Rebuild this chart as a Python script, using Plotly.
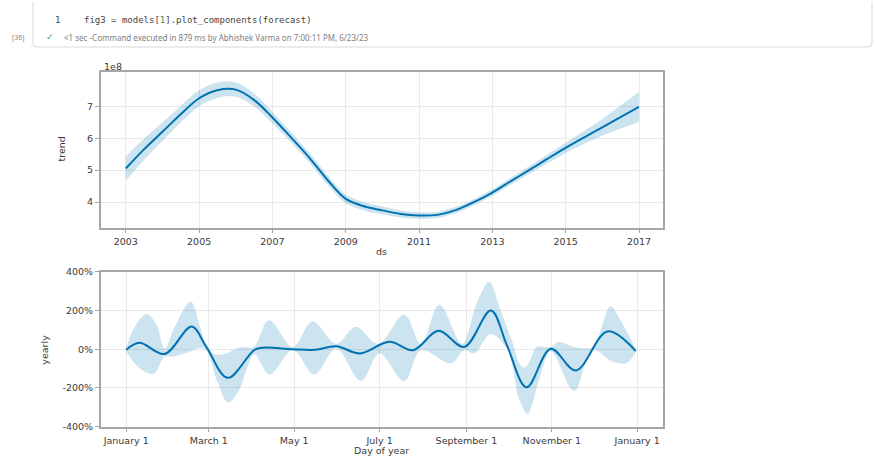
import plotly.graph_objects as go

W, H = 875, 466

# ---- trend component (units of 1e8), half-year samples ----
trend_dates = ["2003-01-01", "2003-07-01", "2004-01-01", "2004-07-01", "2005-01-01",
               "2005-07-01", "2006-01-01", "2006-07-01", "2007-01-01", "2007-07-01",
               "2008-01-01", "2008-07-01", "2009-01-01", "2009-07-01", "2010-01-01",
               "2010-07-01", "2011-01-01", "2011-07-01", "2012-01-01", "2012-07-01",
               "2013-01-01", "2013-07-01", "2014-01-01", "2014-07-01", "2015-01-01",
               "2015-07-01", "2016-01-01", "2016-07-01", "2016-12-31"]
trend = [5.05, 5.65, 6.2, 6.75, 7.25, 7.5, 7.52, 7.2, 6.65, 6.04,
         5.4, 4.7, 4.1, 3.87, 3.74, 3.63, 3.58, 3.6, 3.75, 4.0,
         4.3, 4.65, 5.0, 5.35, 5.7, 6.02, 6.34, 6.66, 6.98]
trend_upper = [5.43, 5.98, 6.49, 7.01, 7.5, 7.74, 7.74, 7.4, 6.83, 6.2,
               5.55, 4.85, 4.24, 4.0, 3.86, 3.74, 3.68, 3.7, 3.85, 4.1,
               4.4, 4.76, 5.12, 5.49, 5.86, 6.22, 6.6, 7.02, 7.45]
trend_lower = [4.67, 5.32, 5.91, 6.49, 7.0, 7.26, 7.3, 7.0, 6.47, 5.88,
               5.25, 4.55, 3.96, 3.74, 3.62, 3.52, 3.48, 3.5, 3.65, 3.9,
               4.2, 4.54, 4.88, 5.21, 5.54, 5.82, 6.08, 6.3, 6.51]
trend_ticks = [4, 5, 6, 7]
year_ticks = ["2003", "2005", "2007", "2009", "2011", "2013", "2015", "2017"]

# ---- yearly component (percent), x = day of year ----
yearly_days = [0, 9.5, 27.3, 46.8, 57, 72.5, 91.6, 98, 119, 135, 150, 167, 188,
               205, 223, 241.5, 260.5, 272, 286, 303.3, 321.2, 343.8, 364]
yearly = [-3, 33, -25, 117, 15, -148, -3, 8, 0, -3, 15, -22, 38,
          -5, 95, 12, 200, 20, -197, 2, -110, 92, -10]

upper_days = [0, 6, 14.3, 21.4, 27.5, 34.5, 46, 52.3, 57, 63, 70, 82, 91, 102,
              119, 133, 150, 164, 180, 198.6, 210.6, 223.6, 240, 250, 259.3,
              267.6, 277, 281, 285, 290, 293, 303, 309, 320, 333, 346, 352, 364]
yearly_upper = [8, 113, 182, 129, 3, 113, 247, 129, 22, -25, -25, 12, 12, 150,
                12, 143, 28, 116, 28, 180, 28, 230, 28, 230, 348,
                197, 12, -75, -95, -30, 12, 12, 37, 12, 12, 222, 163, 3]

lower_days = [0, 6, 13, 20, 27.3, 33.3, 38, 46.4, 52, 57, 65.4, 72.5, 79.7, 86.8,
              91.6, 102.3, 119, 134.4, 150, 167.7, 180.8, 198.6, 210.6, 232,
              241.5, 248.6, 260.5, 272.4, 280.7, 286.7, 295, 303.3, 320, 333,
              347.3, 357, 364]
yearly_lower = [-10, -73, -115, -126, -39, -39, -30, -10, 5, -5, -174, -275, -224, -89,
                -25, -131, -5, -131, 3, -165, -22, -165, -5, -73,
                -5, -22, 79, -5, -258, -333, -157, -9, -216, -3,
                -64, -73, -19]

month_days = [0, 59, 120, 181, 243, 304, 365]
month_labels = ["January 1", "March 1", "May 1", "July 1", "September 1",
                "November 1", "January 1"]
pct_ticks = [-400, -200, 0, 200, 400]

LINE = "#0072B2"
BAND = "rgba(0,114,178,0.2)"
FRAME = "#a6a6a6"
GRID = "#e9e9e9"
TXT = "#3a3a3a"
FONT = "DejaVu Sans"


def px_x(x):
    return x / W


def px_y(y):
    return 1 - y / H


fig = go.Figure()

# trend band + line
fig.add_trace(go.Scatter(x=trend_dates, y=[v * 1e8 for v in trend_lower],
                         mode="lines", line=dict(width=0, shape="spline"),
                         showlegend=False, hoverinfo="skip", xaxis="x", yaxis="y"))
fig.add_trace(go.Scatter(x=trend_dates, y=[v * 1e8 for v in trend_upper],
                         mode="lines", line=dict(width=0, shape="spline"),
                         fill="tonexty", fillcolor=BAND,
                         showlegend=False, hoverinfo="skip", xaxis="x", yaxis="y"))
fig.add_trace(go.Scatter(x=trend_dates, y=[v * 1e8 for v in trend],
                         mode="lines", line=dict(color=LINE, width=2, shape="spline"),
                         showlegend=False, xaxis="x", yaxis="y"))

# yearly band + line
fig.add_trace(go.Scatter(x=lower_days, y=yearly_lower,
                         mode="lines", line=dict(width=0, shape="spline"),
                         showlegend=False, hoverinfo="skip", xaxis="x2", yaxis="y2"))
fig.add_trace(go.Scatter(x=upper_days, y=yearly_upper,
                         mode="lines", line=dict(width=0, shape="spline"),
                         fill="tonexty", fillcolor=BAND,
                         showlegend=False, hoverinfo="skip", xaxis="x2", yaxis="y2"))
fig.add_trace(go.Scatter(x=yearly_days, y=yearly,
                         mode="lines", line=dict(color=LINE, width=2, shape="spline"),
                         showlegend=False, xaxis="x2", yaxis="y2"))

axis_common = dict(showline=True, mirror=True, linecolor=FRAME, linewidth=1.5,
                   showgrid=True, gridcolor=GRID, gridwidth=1, zeroline=False,
                   ticks="outside", ticklen=4, tickcolor=FRAME,
                   tickfont=dict(family=FONT, size=9.5, color=TXT))

x_dom = [px_x(100.7), px_x(662.7)]

fig.update_layout(
    width=W, height=H, margin=dict(l=0, r=0, t=0, b=0),
    paper_bgcolor="white", plot_bgcolor="white", showlegend=False,
    xaxis=dict(domain=x_dom, anchor="y", type="date",
               range=["2002-04-26", "2017-08-25"],
               tickvals=[y + "-01-01" for y in year_ticks], ticktext=year_ticks,
               **axis_common),
    yaxis=dict(domain=[px_y(227), px_y(68)], anchor="x",
               range=[3.2e8, 8.06e8],
               tickvals=[t * 1e8 for t in trend_ticks],
               ticktext=[str(t) for t in trend_ticks], **axis_common),
    xaxis2=dict(domain=x_dom, anchor="y2", range=[-18.25, 383.25],
                tickvals=month_days, ticktext=month_labels, **axis_common),
    yaxis2=dict(domain=[px_y(430.7), px_y(272.3)], anchor="x2",
                range=[-400, 400], tickvals=pct_ticks,
                ticktext=[f"{t}%" for t in pct_ticks], **axis_common),
)

ann = []


def label(x, y, text, size=9.5, angle=0, xanchor="center", color=TXT, family=FONT):
    ann.append(dict(x=px_x(x), y=px_y(y), xref="paper", yref="paper", text=text,
                    showarrow=False, textangle=angle, xanchor=xanchor,
                    yanchor="middle", font=dict(family=family, size=size, color=color)))


# axis titles
label(381, 251, "ds")
label(62, 147, "trend", angle=-90)
label(102, 62, "1e8", xanchor="left")
label(381, 455, "Day of year")
label(45, 352, "yearly", angle=-90)

# notebook cell header
label(58, 14, "1", size=9, family="DejaVu Sans Mono", color="#444")
label(82, 14, 'fig3 = models[<span style="color:#2e9a5a">1</span>].plot_components(forecast)',
      size=9, xanchor="left", family="DejaVu Sans Mono", color="#444")
label(10, 32, "[36]", size=7, xanchor="left", color="#8a8a8a", family="Noto Sans")
label(44, 32, "✓", size=9, xanchor="left", color="#3f9c48", family="DejaVu Sans")
label(62, 32, "&lt;1 sec -Command executed in 879 ms by Abhishek Varma on 7:00:11 PM, 6/23/23",
      size=8, xanchor="left", color="#808080", family="Noto Sans")

fig.update_layout(annotations=ann)

# cell box outline
x0, x1, y0, y1, r = 33, 872, -4, 42, 4
path = (f"M {px_x(x0)},{px_y(y0)} L {px_x(x0)},{px_y(y1 - r)} "
        f"Q {px_x(x0)},{px_y(y1)} {px_x(x0 + r)},{px_y(y1)} "
        f"L {px_x(x1 - r)},{px_y(y1)} Q {px_x(x1)},{px_y(y1)} {px_x(x1)},{px_y(y1 - r)} "
        f"L {px_x(x1)},{px_y(y0)}")
fig.add_shape(type="path", path=path, xref="paper", yref="paper",
              line=dict(color="#d9d9d9", width=1))

fig.write_html("out.html")
